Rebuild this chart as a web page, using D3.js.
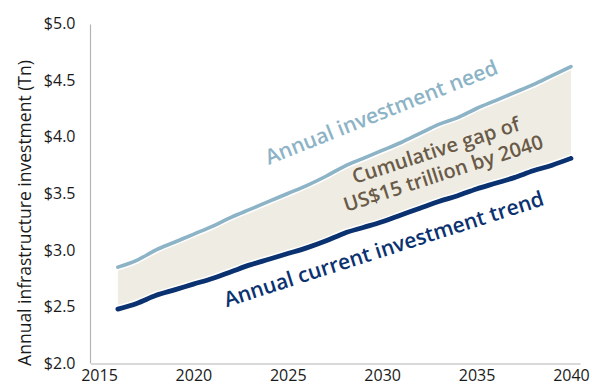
<!DOCTYPE html>
<html>
<head>
<meta charset="utf-8">
<script src="https://cdn.jsdelivr.net/npm/d3@7"></script>
<style>
  html, body { margin: 0; padding: 0; background: #fff; }
  svg { display: block; }
</style>
</head>
<body>
<svg id="chart" width="592" height="387"></svg>
<script>
// Annual infrastructure investment, trillions of US$
const years = [2016, 2017, 2018, 2019, 2020, 2021, 2022, 2023, 2024, 2025, 2026, 2027, 2028,
               2029, 2030, 2031, 2032, 2033, 2034, 2035, 2036, 2037, 2038, 2039, 2040];
const investmentNeed = [2.85, 2.91, 3.00, 3.07, 3.14, 3.21, 3.29, 3.36, 3.43, 3.50, 3.57, 3.65, 3.74,
                        3.81, 3.88, 3.95, 4.03, 4.11, 4.17, 4.25, 4.32, 4.39, 4.46, 4.54, 4.62];
const currentTrend = [2.48, 2.53, 2.60, 2.65, 2.70, 2.75, 2.81, 2.87, 2.92, 2.97, 3.02, 3.08, 3.15,
                      3.20, 3.25, 3.31, 3.37, 3.43, 3.48, 3.54, 3.59, 3.64, 3.70, 3.75, 3.81];
const yTicks = [2.0, 2.5, 3.0, 3.5, 4.0, 4.5, 5.0];
const xTicks = [2015, 2020, 2025, 2030, 2035, 2040];
const yTitle = "Annual infrastructure investment (Tn)";
const needLabel = "Annual investment need";
const trendLabel = "Annual current investment trend";
const gapLabel = ["Cumulative gap of", "US$15 trillion by 2040"];

const rows = years.map((yr, i) => ({ year: yr, need: investmentNeed[i], trend: currentTrend[i] }));

const svg = d3.select("#chart");
const FONT = "'Open Sans', 'Noto Sans', sans-serif";

const x = d3.scaleLinear().domain([2014.55, 2040.48]).range([90.5, 580]);
const y = d3.scaleLinear().domain([2, 5]).range([363.5, 23.5]);

// gap band
svg.append("path")
  .datum(rows)
  .attr("fill", "#efede3")
  .attr("d", d3.area().x(d => x(d.year)).y0(d => y(d.trend)).y1(d => y(d.need)));

// axes
const xAxis = svg.append("g")
  .attr("transform", `translate(0,${y(2)})`)
  .call(d3.axisBottom(x).tickValues(xTicks).tickSize(0).tickPadding(6).tickFormat(d3.format("d")));
const yAxis = svg.append("g")
  .attr("transform", `translate(${x.range()[0]},0)`)
  .call(d3.axisLeft(y).tickValues(yTicks).tickSize(0).tickPadding(15).tickFormat(d => "$" + d3.format(".1f")(d)));
[xAxis, yAxis].forEach(g => {
  g.select(".domain").attr("stroke", "#b4b4b4").attr("stroke-width", 1.2);
  g.selectAll("text").attr("font-family", FONT).attr("font-size", 16).attr("fill", "#1a1a1a");
});
yAxis.select(".domain").attr("d", `M0,${y(2)}V${y(5) + 1}`);

// series lines with a white halo against the band
const lineNeed = d3.line().x(d => x(d.year)).y(d => y(d.need)).curve(d3.curveMonotoneX);
const lineTrend = d3.line().x(d => x(d.year)).y(d => y(d.trend)).curve(d3.curveMonotoneX);

[[lineNeed, "#8cb3c6", 3.6], [lineTrend, "#0b3270", 4.8]].forEach(([gen, color, w]) => {
  svg.append("path").datum(rows).attr("fill", "none").attr("stroke", "#fff")
    .attr("stroke-width", w + 3).attr("stroke-linecap", "round").attr("d", gen);
  svg.append("path").datum(rows).attr("fill", "none").attr("stroke", color)
    .attr("stroke-width", w).attr("stroke-linecap", "round").attr("stroke-linejoin", "round").attr("d", gen);
});

// y axis title
svg.append("text")
  .attr("transform", "translate(31,213) rotate(-90)")
  .attr("text-anchor", "middle")
  .attr("font-family", FONT).attr("font-size", 17.5).attr("fill", "#1a1a1a")
  .text(yTitle);

// series labels
function rotatedLabel(cx, cy, angle, lines, size, color, spacing) {
  const t = svg.append("text")
    .attr("transform", `translate(${cx},${cy}) rotate(${angle})`)
    .attr("text-anchor", "middle")
    .attr("font-family", FONT).attr("font-weight", 600)
    .attr("font-size", size).attr("fill", color);
  lines.forEach((s, i) => t.append("tspan").attr("x", 0).attr("dy", i === 0 ? 0 : spacing).text(s));
}
rotatedLabel(384, 119, -21.7, [needLabel], 21, "#8cb3c6", 0);
rotatedLabel(386, 256, -17.8, [trendLabel], 21, "#0b3270", 0);
rotatedLabel(438, 157, -18, gapLabel, 20, "#6a5a48", 24);
</script>
</body>
</html>
